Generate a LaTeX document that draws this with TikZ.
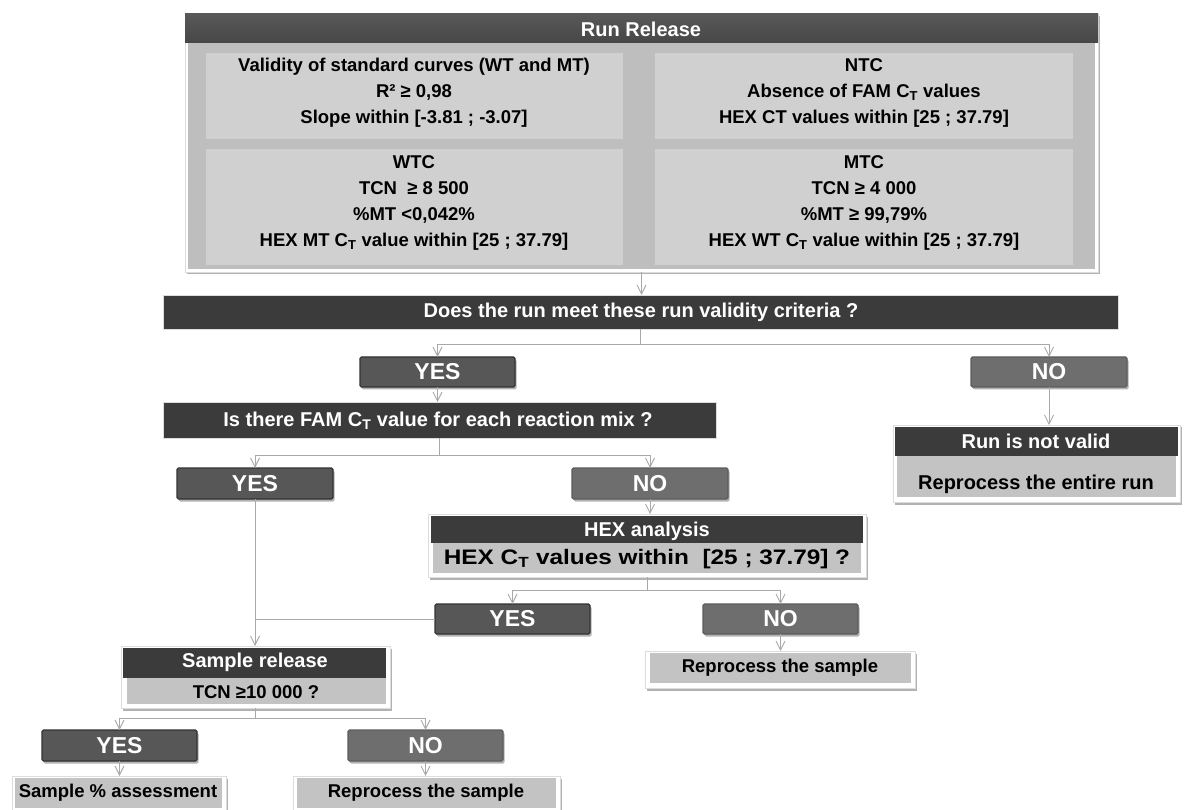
\documentclass[tikz,border=0pt]{standalone}
\usepackage{fontspec}
\setmainfont{Liberation Sans}
\usetikzlibrary{arrows.meta,fit,shadows}
\definecolor{hdrdark}{HTML}{3B3B3B}
\definecolor{yesfill}{HTML}{575757}
\definecolor{nofill}{HTML}{6E6E6E}
\definecolor{boxedge}{HTML}{333333}
\definecolor{panelfill}{HTML}{D0D0D0}
\definecolor{bgfill}{HTML}{BEBEBE}
\definecolor{ansfill}{HTML}{C3C3C3}
\definecolor{connclr}{HTML}{A9A9A9}
\definecolor{frameclr}{HTML}{DDDDDD}
\newcommand\ftHdr{\fontsize{20}{24}\selectfont\bfseries}
\newcommand\ftBig{\fontsize{21}{26}\selectfont\bfseries}
\newcommand\ftPanel{\fontsize{18.5}{26}\selectfont\bfseries}
\newcommand\ftAns{\fontsize{18.5}{22}\selectfont\bfseries}
\newcommand\ftYN{\fontsize{23}{26}\selectfont\bfseries}
\newcommand\CT{C\textsubscript{T}}
\begin{document}
\begin{tikzpicture}[x=1pt,y=-1pt,
  every node/.style={inner sep=0pt, outer sep=0pt},
  shd/.style={drop shadow={shadow xshift=1.5pt, shadow yshift=-2.5pt, opacity=0.3, fill=black}},
  frame/.style={fill=white, draw=frameclr, line width=0.6pt, shd},
  hdr/.style={fill=hdrdark, text=white, font=\ftHdr},
  panel/.style={fill=panelfill},
  ans/.style={fill=ansfill, font=\ftAns},
  yesbox/.style={fill=yesfill, draw=boxedge, line width=1.2pt, rounded corners=1.5pt, text=white, font=\ftYN, shd},
  nobox/.style={fill=nofill, draw=boxedge!80, line width=1.2pt, rounded corners=1.5pt, text=white, font=\ftYN, shd},
  conn/.style={draw=connclr, line width=0.9pt},
  arr/.style={conn, -{Straight Barb[length=9pt,width=9pt]}},
  ptext/.style={font=\ftPanel, align=center}
]
\useasboundingbox (0,0) rectangle (1195,810);

% ---------- Run Release ----------
\node[frame, fit={(185,14) (1098,272)}] (rro) {};
\node[fill=bgfill, fit={(188,43) (1095,269)}] (rrbg) {};
\node[hdr, fit={(185,14) (1098,43)}, top color=hdrdark!85, bottom color=hdrdark!120!black] (rrh) {};
\node[text=white, font=\ftHdr] (rrt) at (641,29) {Run Release};
\node[panel, fit={(206,53) (623,139)}] (ptl) {};
\node[panel, fit={(655,53) (1073,139)}] (ptr) {};
\node[panel, fit={(206,149) (623,265)}] (pbl) {};
\node[panel, fit={(655,149) (1073,265)}] (pbr) {};
\node[ptext] (ttl) at (414,93) {Validity of standard curves (WT and MT)\\R² ≥ 0,98\\Slope within [-3.81 ; -3.07]};
\node[ptext] (ttr) at (864,93) {NTC\\Absence of FAM \CT{} values\\HEX CT values within [25 ; 37.79]};
\node[ptext] (tbl) at (414,203) {WTC\\TCN \ ≥ 8 500\\\%MT <0,042\%\\HEX MT \CT{} value within [25 ; 37.79]};
\node[ptext] (tbr) at (864,203) {MTC\\TCN ≥ 4 000\\\%MT ≥ 99,79\%\\HEX WT \CT{} value within [25 ; 37.79]};

% ---------- Run validity question ----------
\node[hdr, fit={(163,295) (1118,329)}, draw=frameclr, line width=0.6pt] (does) {};
\node[text=white, font=\ftHdr] (doest) at (641,312) {Does the run meet these run validity criteria ?};

\node[yesbox, fit={(360,357) (515,387)}] (yes1) {};
\node[text=white, font=\ftYN] at (yes1) (yes1t) {YES};
\node[nobox, fit={(971,357) (1127,387)}] (no1) {};
\node[text=white, font=\ftYN] at (no1) (no1t) {NO};

% ---------- Run is not valid ----------
\node[frame, fit={(893,425) (1180,502)}] (rnvo) {};
\node[hdr, fit={(895,427) (1178,456)}] (rnvh) {};
\node[text=white, font=\ftHdr] (rnvt) at (1036,441) {Run is not valid};
\node[fill=ansfill, fit={(897,456) (1176,497)}] (rnvg) {};
\node[font=\ftHdr] (rnvgt) at (1036,484) {Reprocess the entire run};

% ---------- FAM question ----------
\node[hdr, fit={(163,402) (716,438)}, draw=frameclr, line width=0.6pt] (isq) {};
\node[text=white, font=\ftHdr] (isqt) at (438,421) {Is there FAM \CT{} value for each reaction mix ?};

\node[yesbox, fit={(177,468) (333,499)}] (yes2) {};
\node[text=white, font=\ftYN] at (yes2) (yes2t) {YES};
\node[nobox, fit={(572,468) (728,499)}] (no2) {};
\node[text=white, font=\ftYN] at (no2) (no2t) {NO};

% ---------- HEX analysis ----------
\node[frame, fit={(428,514) (866,577)}] (hexo) {};
\node[hdr, fit={(431,516) (863,543)}] (hexh) {};
\node[text=white, font=\ftHdr] (hexht) at (647,531) {HEX analysis};
\node[fill=ansfill, fit={(433,543) (861,573)}] (hexg) {};
\node[font=\ftBig] (hexgt) at (647,559) {\scalebox{1.16}[1]{HEX \CT{} values within \ [25 ; 37.79] ?}};

\node[yesbox, fit={(435,604) (590,634)}] (yes3) {};
\node[text=white, font=\ftYN] at (yes3) (yes3t) {YES};
\node[nobox, fit={(703,604) (858,634)}] (no3) {};
\node[text=white, font=\ftYN] at (no3) (no3t) {NO};

\node[frame, fit={(645,651) (915,688)}] (rs1o) {};
\node[ans, fit={(650,653) (911,683)}] (rs1g) {};
\node[font=\ftAns] (rs1t) at (780,668) {Reprocess the sample};

% ---------- Sample release ----------
\node[frame, fit={(121,646) (390,708)}] (sro) {};
\node[hdr, fit={(123,648) (386,678)}] (srh) {};
\node[text=white, font=\ftHdr] (srht) at (255,662) {Sample release};
\node[fill=ansfill, fit={(127,678) (386,704)}] (srg) {};
\node[font=\ftAns] (srgt) at (256,692) {TCN ≥10 000 ?};

\node[yesbox, fit={(42,730) (197,761)}] (yes4) {};
\node[text=white, font=\ftYN] at (yes4) (yes4t) {YES};
\node[nobox, fit={(348,730) (503,761)}] (no4) {};
\node[text=white, font=\ftYN] at (no4) (no4t) {NO};

\node[frame, fit={(12,776) (226,812)}] (sao) {};
\node[ans, fit={(15,778) (222,808)}] (sag) {};
\node[font=\ftAns] (sat) at (118,793) {Sample \% assessment};

\node[frame, fit={(293,776) (560,812)}] (rs2o) {};
\node[ans, fit={(297,778) (556,808)}] (rs2g) {};
\node[font=\ftAns] (rs2t) at (426,793) {Reprocess the sample};

% ---------- connectors ----------
\draw[arr] (rro.south) -- (rro.south |- does.north);
\draw[arr] (does.south) -- ++(0,15) -| (yes1.north);
\draw[arr] (does.south) -- ++(0,15) -| (no1.north);
\draw[arr] (no1.south) -- (no1.south |- rnvo.north);
\draw[arr] (yes1.south) -- (yes1.south |- isq.north);
\draw[arr] (isq.south) -- ++(0,17) -| (yes2.north);
\draw[arr] (isq.south) -- ++(0,17) -| (no2.north);
\draw[arr] (no2.south) -- (no2.south |- hexo.north);
\draw[arr] (hexo.south) -- ++(0,13) -| (yes3.north);
\draw[arr] (hexo.south) -- ++(0,13) -| (no3.north);
\draw[arr] (no3.south) -- (no3.south |- rs1o.north);
\draw[arr] (yes2.south) -- (yes2.south |- sro.north);
\draw[conn] (yes3.west) -- (yes3.west -| yes2.south);
\draw[arr] (sro.south) -- ++(0,10) -| (yes4.north);
\draw[arr] (sro.south) -- ++(0,10) -| (no4.north);
\draw[arr] (yes4.south) -- (yes4.south |- sao.north);
\draw[arr] (no4.south) -- (no4.south |- rs2o.north);
\end{tikzpicture}
\end{document}
